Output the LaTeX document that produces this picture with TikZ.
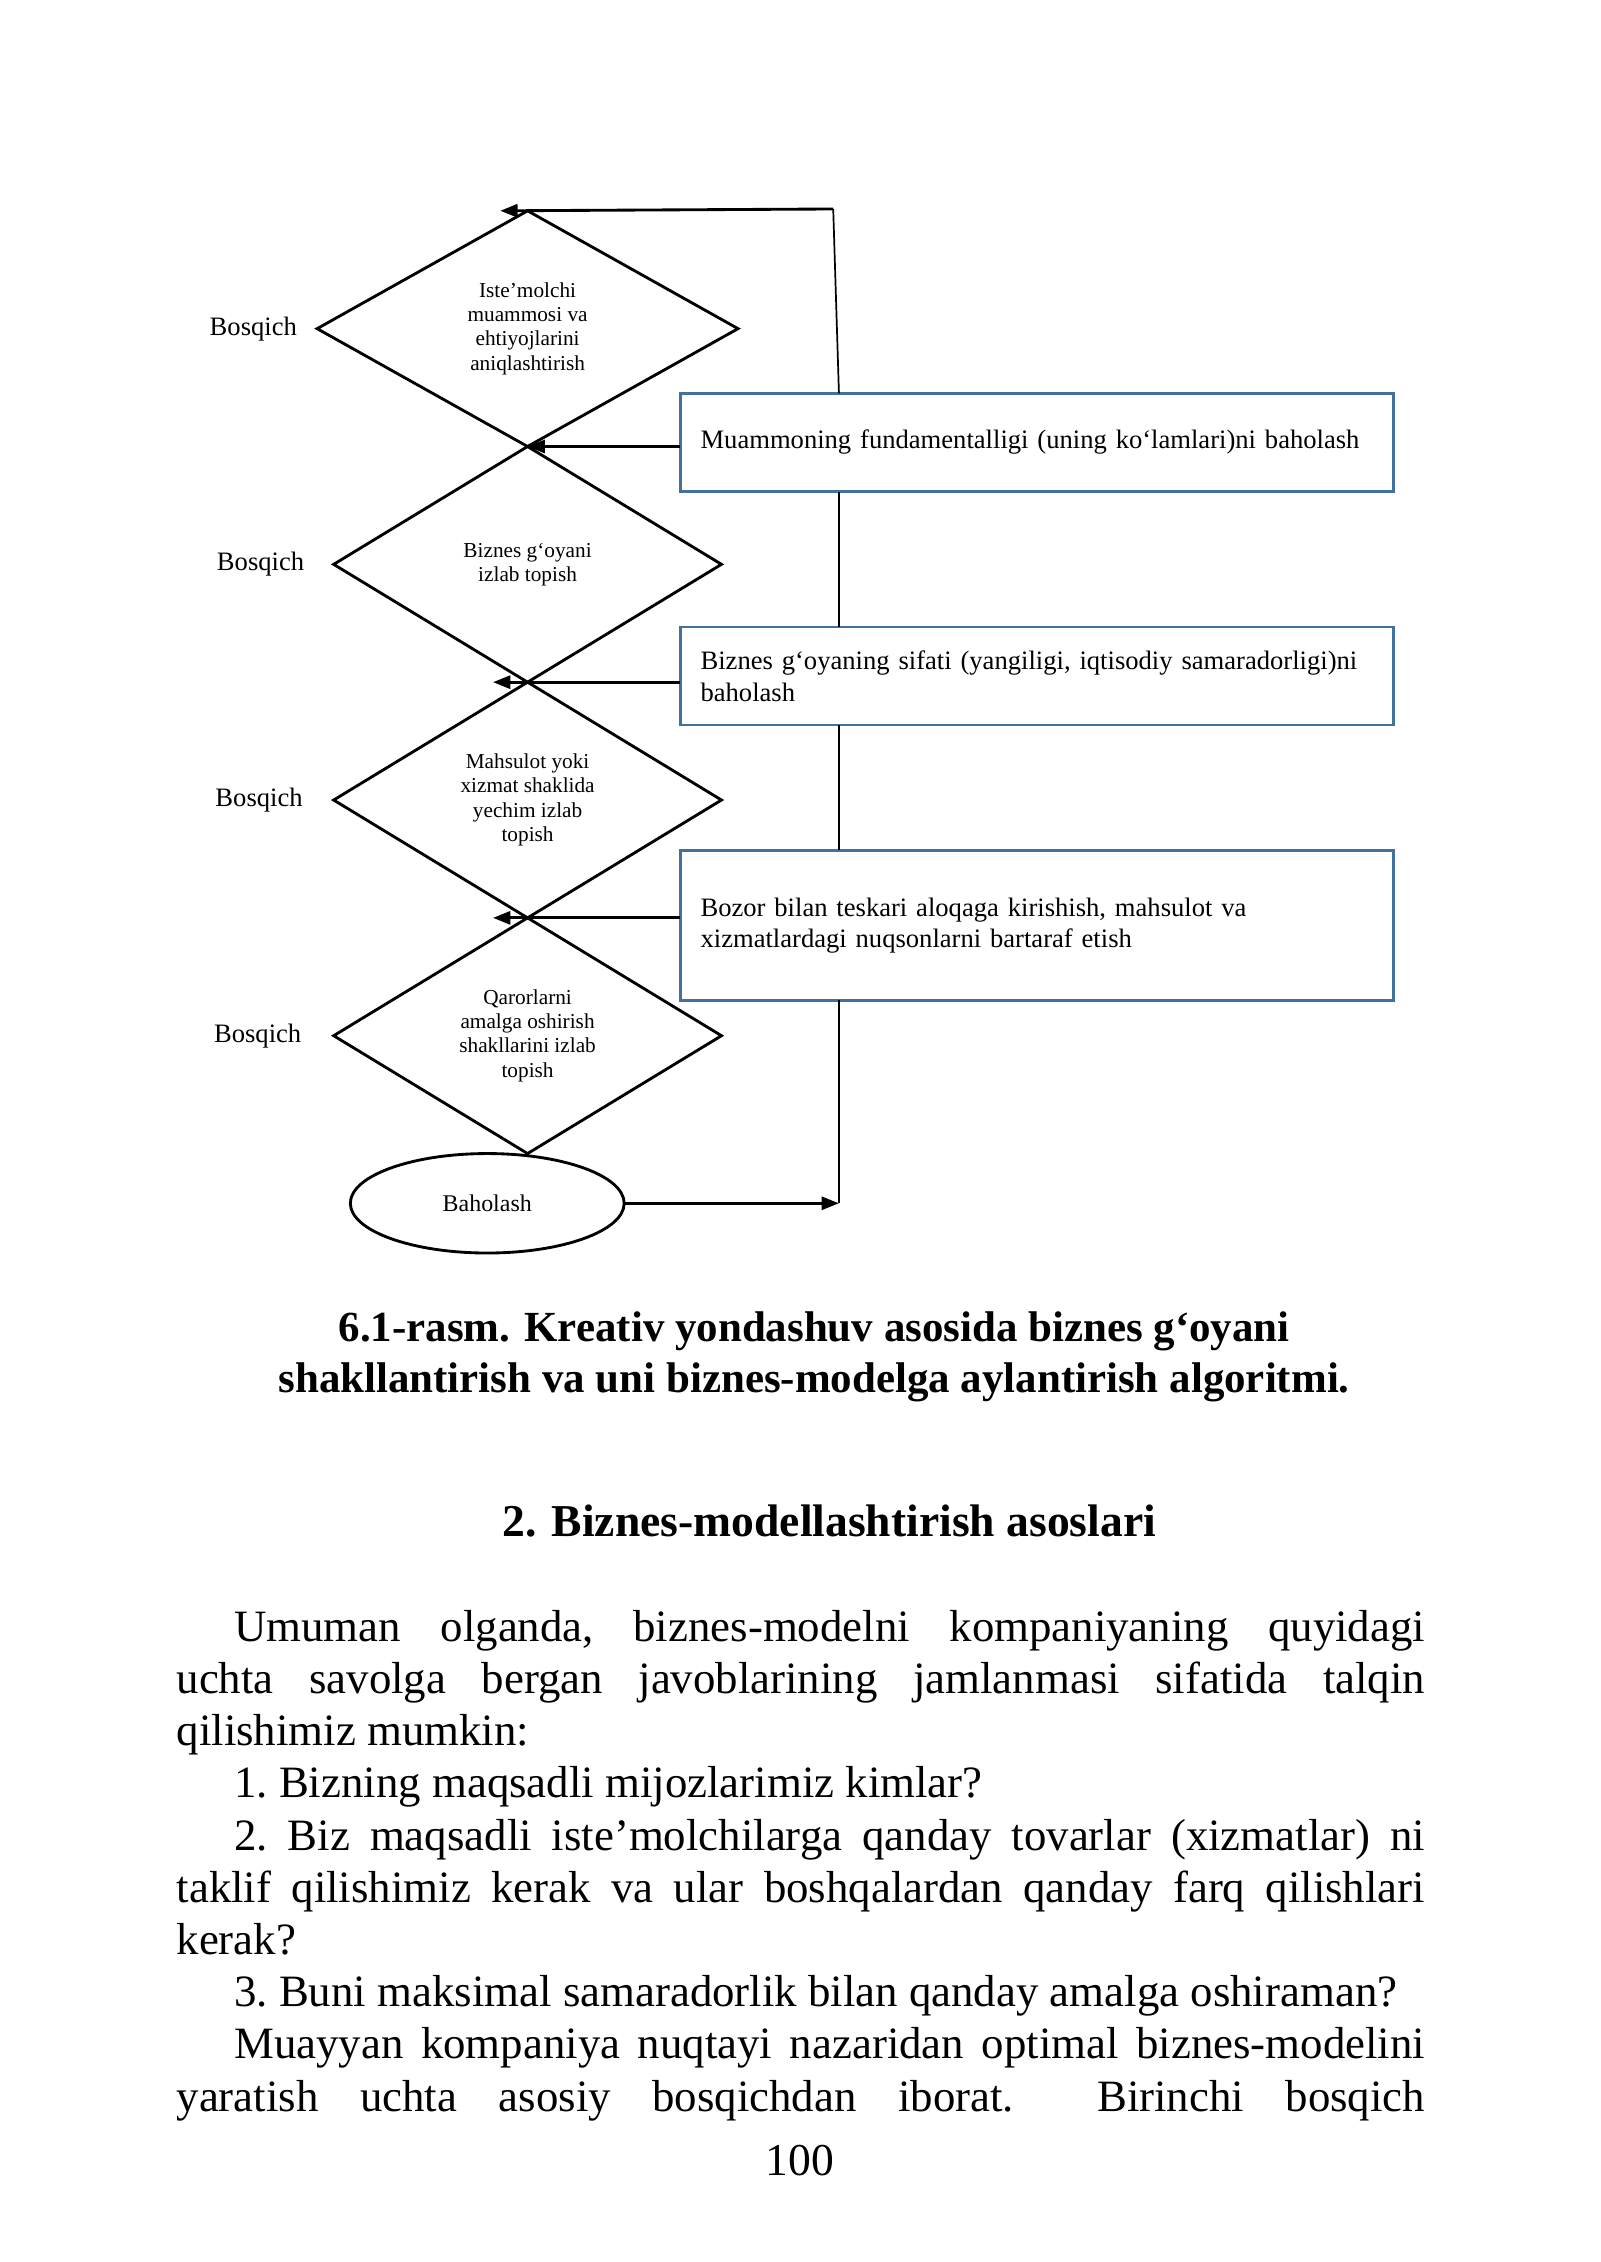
\documentclass[tikz,border=0pt]{standalone}
\usepackage{fontspec}
\setmainfont{Liberation Serif}
\usepackage{xcolor}
\usetikzlibrary{positioning, shapes.geometric, arrows.meta}
\definecolor{boxblue}{RGB}{65,113,156}

\begin{document}
\begin{tikzpicture}
[
x=1mm, y=1mm,
stage-a/.style={diamond, draw, line width=0.75pt, inner sep=0pt, outer sep=0pt, align=center, minimum width=35.87mm, minimum height=21.8mm, font=\fontsize{5.6}{6.4}\selectfont},
check-a/.style={rectangle, draw=boxblue, line width=0.75pt, inner xsep=1.87mm, inner ysep=0pt, outer sep=0pt, text width=62.26mm, align=left, font=\fontsize{7}{8.3}\selectfont},
end-a/.style={ellipse, draw, line width=0.75pt, inner sep=0pt, outer sep=0pt, minimum width=25.33mm, minimum height=9.2mm, font=\fontsize{6.3}{7}\selectfont},
text-a/.style={inner sep=0pt, font=\fontsize{7}{8}\selectfont},
text-b/.style={inner sep=0pt, align=center, font=\bfseries\fontsize{12}{13.2}\selectfont},
flow/.style={line width=0.75pt, -{Triangle[length=1.6mm, width=1.2mm]}},
back/.style={line width=0.45pt}
]
\useasboundingbox (0,0) rectangle (148,-209.23);

\node (stage-1)    [stage-a, minimum width=38.93mm]             at (48.8,-30.40) {Iste’molchi\\muammosi va\\ehtiyojlarini\\aniqlashtirish};
\node (stage-2)    [stage-a, below       =  00.00mm of stage-1] {Biznes g‘oyani\\izlab topish};
\node (stage-3)    [stage-a, below       =  00.00mm of stage-2] {Mahsulot yoki\\xizmat shaklida\\yechim izlab\\topish};
\node (stage-4)    [stage-a, below       =  00.00mm of stage-3] {Qarorlarni\\amalga oshirish\\shakllarini izlab\\topish};
\node (final)      [end-a,   below       =  00.00mm of stage-4, xshift=-3.73mm] {Baholash};
\node (stage-1-lb) [text-a,  left        =  01.80mm of stage-1] {Bosqich};
\node (stage-2-lb) [text-a,  left        =  02.66mm of stage-2] {Bosqich};
\node (stage-3-lb) [text-a,  left        =  02.80mm of stage-3] {Bosqich};
\node (stage-4-lb) [text-a,  left        =  02.93mm of stage-4] {Bosqich};

\node (check-1)    [check-a, minimum height=9.07mm, anchor=west] at (62.93,-40.93) {Muammoning fundamentalligi (uning ko‘lamlari)ni baholash};
\node (check-2)    [check-a, minimum height=9.07mm,  below = 12.53mm of check-1] {Biznes g‘oyaning sifati (yangiligi, iqtisodiy samaradorligi)ni\\baholash};
\node (check-3)    [check-a, minimum height=13.87mm, below = 11.60mm of check-2] {Bozor bilan teskari aloqaga kirishish, mahsulot va\\xizmatlardagi nuqsonlarni bartaraf etish};

\coordinate (back-x)   at (77.6,0);
\coordinate (back-top) at (77.07,-19.33);

\draw [flow] (stage-1.south -| check-1.west) -- (stage-1.south);
\draw [flow] (stage-2.south -| check-2.west) -- ([xshift=-3.2mm]stage-2.south);
\draw [flow] (stage-3.south -| check-3.west) -- ([xshift=-3.2mm]stage-3.south);

\draw [flow] (final.east) -- (final.east -| back-x);
\draw [back] (final.east -| back-x)   -- (check-3.south -| back-x);
\draw [back] (check-3.north -| back-x) -- (check-2.south -| back-x);
\draw [back] (check-2.north -| back-x) -- (check-1.south -| back-x);
\draw [back] (check-1.north -| back-x) -- (back-top);
\draw [flow] (back-top) -- ([xshift=-2.53mm]stage-1.north);

\node (caption)  [text-b, font=\bfseries\fontsize{11.3}{13.2}\selectfont] at (75.3,-125.5) {6.1-rasm. Kreativ yondashuv asosida biznes g‘oyani\\shakllantirish va uni biznes-modelga aylantirish algoritmi.};
\node (heading)  [text-b] at (76.7,-140.7) {2. Biznes-modellashtirish asoslari};

\node (body) [inner sep=0pt, anchor=north west, text width=115.47mm, align=justify, font=\fontsize{11.8}{13.74}\selectfont] at (16.27,-148.87)
{\parindent=0pt\tolerance=10000\hyphenpenalty=10000\exhyphenpenalty=10000\frenchspacing%
\hspace*{5.33mm}Umuman olganda, biznes-modelni kompaniyaning quyidagi\linebreak uchta savolga bergan javoblarining jamlanmasi sifatida talqin\linebreak qilishimiz mumkin:\par
\hspace*{5.33mm}1. Bizning maqsadli mijozlarimiz kimlar?\par
\hspace*{5.33mm}2. Biz maqsadli iste’molchilarga qanday tovarlar (xizmatlar) ni\linebreak taklif qilishimiz kerak va ular boshqalardan qanday farq qilishlari\linebreak kerak?\par
\hspace*{5.33mm}3. Buni maksimal samaradorlik bilan qanday amalga oshiraman?\par
{\parfillskip=0pt\hspace*{5.33mm}Muayyan kompaniya nuqtayi nazaridan optimal biznes-modelini\linebreak yaratish uchta asosiy bosqichdan iborat.\ \ Birinchi bosqich\par}};

\node (page-no) [inner sep=0pt, font=\fontsize{12}{14}\selectfont] at (74.0,-199.87) {100};

\end{tikzpicture}
\end{document}
